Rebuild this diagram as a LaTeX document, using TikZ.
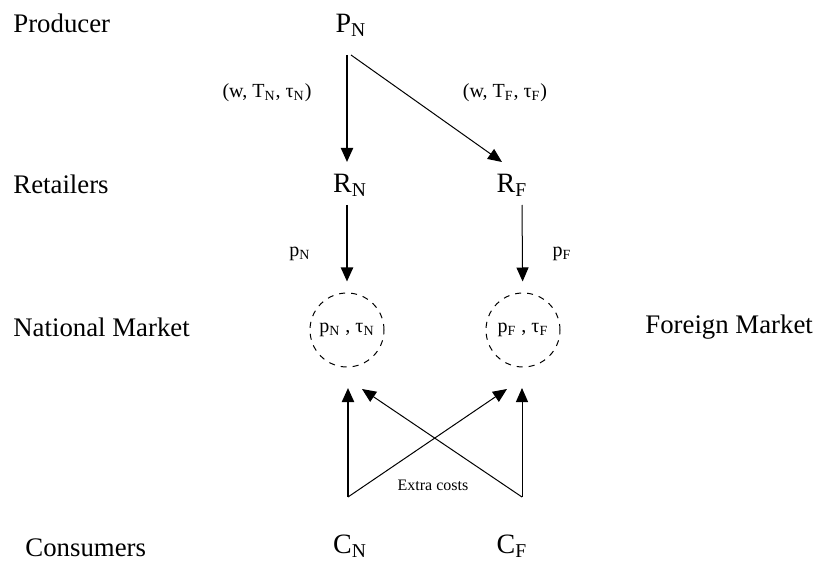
\documentclass[tikz,border=0pt]{standalone}
\usepackage{fontspec}
\setmainfont{Liberation Serif}
\usetikzlibrary{arrows.meta,positioning}
\tikzset{
  >={Triangle[length=7pt,width=6pt]},
  lvl/.style={anchor=west,inner sep=0pt,font=\fontsize{13.4}{16}\selectfont},
  agt/.style={font=\fontsize{14}{16}\selectfont},
  mkt/.style={circle,draw,dashed,line width=0.5pt,minimum size=37pt,inner sep=0pt,font=\fontsize{10}{12}\selectfont},
  thk/.style={->,line width=1.1pt},
  thn/.style={->,line width=0.5pt},
  lbl/.style={font=\fontsize{10}{12}\selectfont},
  sml/.style={font=\fontsize{8}{10}\selectfont},
}

\begin{document}
\begin{tikzpicture}[x=0.5pt,y=-0.5pt]
\useasboundingbox (0,0) rectangle (815,567);
% row labels
\node[lvl] (lP) at (13,23)  {Producer};
\node[lvl] (lR) at (13,184) {Retailers};
\node[lvl] (lN) at (13,327) {National Market};
\node[lvl] (lF) at (645,327) {Foreign Market};
\node[lvl] (lC) at (25,548) {Consumers};
% agents
\node[agt] (PN) at (351,25)  {P\textsubscript{N}};
\node[agt] (RN) at (350,185) {R\textsubscript{N}};
\node[agt] (RF) at (512,185) {R\textsubscript{F}};
\node[agt] (CN) at (350,546) {C\textsubscript{N}};
\node[agt] (CF) at (512,546) {C\textsubscript{F}};
% markets
\node[mkt] (MN) at (347,330) {p\textsubscript{N} , τ\textsubscript{N}};
\node[mkt] (MF) at (523,330) {p\textsubscript{F} , τ\textsubscript{F}};
% contract and price labels
\node[lbl] (cN) at (267,93) {(w, T\textsubscript{N}, τ\textsubscript{N})};
\node[lbl] (cF) at (505,93) {(w, T\textsubscript{F}, τ\textsubscript{F})};
\node[lbl] (pN) at (300,254) {p\textsubscript{N}};
\node[lbl] (pF) at (562,254) {p\textsubscript{F}};
\node[sml] (ex) at (433,485) {Extra costs};
% arrow ends
\coordinate (PNa) at (347,55);  \coordinate (PNb) at (351,55);
\coordinate (RNa) at (347,162); \coordinate (RFa) at (502,162);
\coordinate (RNb) at (347,205); \coordinate (RFb) at (522,205);
\coordinate (CNa) at (348,497); \coordinate (CFa) at (522,497);
\coordinate (MNa) at (348,388); \coordinate (MFa) at (522,388);
\coordinate (MNb) at (362,389); \coordinate (MFb) at (507,389);
% producer to retailers
\draw[thk] (PNa) -- (RNa);
\draw[thn] (PNb) -- (RFa);
% retailers to markets
\draw[thk,shorten >=5.5pt] (RNb) -- (MN);
\draw[thn,shorten >=5.5pt] (RFb) -- (MF);
% consumers to markets
\draw[thk] (CNa) -- (MNa);
\draw[thn] (CFa) -- (MFa);
\draw[thn] (CNa) -- (MFb);
\draw[thn] (CFa) -- (MNb);
\end{tikzpicture}
\end{document}
